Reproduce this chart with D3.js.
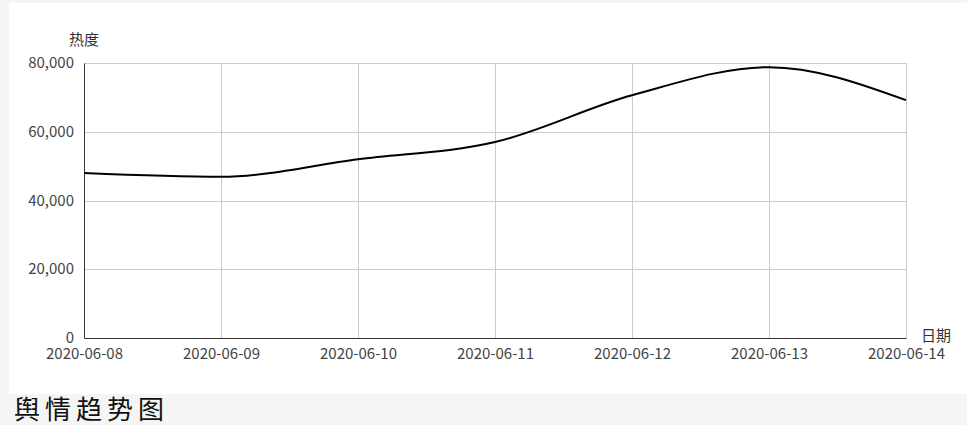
<!DOCTYPE html>
<html>
<head>
<meta charset="utf-8">
<script src="https://cdn.jsdelivr.net/npm/d3@7"></script>
<style>
  html, body { margin: 0; padding: 0; background: #f5f5f5; overflow: hidden; }
  #chart { position: absolute; left: 9px; top: 3px; width: 958px; height: 391px; background: #fff; }
  #title { position: absolute; left: 14px; top: 394px; font-family: "Noto Sans CJK SC", serif; font-size: 26px; letter-spacing: 5px; color: #111; line-height: 28px; }
</style>
</head>
<body>
<div id="chart"></div>
<div id="title">舆情趋势图</div>
<script>
// data
var dates = ["2020-06-08","2020-06-09","2020-06-10","2020-06-11","2020-06-12","2020-06-13","2020-06-14"];
var heat = [48000, 46900, 52000, 57000, 70600, 78800, 69200];
var yTicks = [0, 20000, 40000, 60000, 80000];

// dimensions (relative to the white panel)
var margin = {top: 60, right: 61, bottom: 56, left: 75},
    width = 958 - margin.left - margin.right,
    height = 391 - margin.top - margin.bottom;

var font = '"Noto Sans CJK SC", "Open Sans", sans-serif';

var svg = d3.select("#chart")
  .append("svg")
    .attr("width", width + margin.left + margin.right)
    .attr("height", height + margin.top + margin.bottom)
  .append("g")
    .attr("transform", "translate(" + margin.left + "," + margin.top + ")");

var x = d3.scalePoint()
  .domain(dates)
  .range([0, width]);
var y = d3.scaleLinear()
  .domain([0, 80000])
  .range([height, 0]);

// grid lines
svg.append("g")
  .selectAll("line.h")
  .data(yTicks.slice(1))
  .enter()
  .append("line")
    .attr("x1", 0).attr("x2", width)
    .attr("y1", function(d) { return Math.round(y(d)) + 0.5; })
    .attr("y2", function(d) { return Math.round(y(d)) + 0.5; })
    .attr("stroke", "#ccc");
svg.append("g")
  .selectAll("line.v")
  .data(dates.slice(1))
  .enter()
  .append("line")
    .attr("x1", function(d) { return Math.round(x(d)) + 0.5; })
    .attr("x2", function(d) { return Math.round(x(d)) + 0.5; })
    .attr("y1", 0).attr("y2", height)
    .attr("stroke", "#ccc");

// axes
var xAxis = svg.append("g")
  .attr("transform", "translate(0," + height + ")")
  .call(d3.axisBottom(x).tickSize(0).tickPadding(10));
var yAxis = svg.append("g")
  .call(d3.axisLeft(y).tickValues(yTicks).tickSize(0).tickPadding(10)
    .tickFormat(d3.format(",")));

[xAxis, yAxis].forEach(function(a) {
  a.select(".domain").attr("stroke", "#333");
  a.selectAll("text")
    .style("font-family", font)
    .style("font-size", "15px")
    .attr("fill", "#444");
});
yAxis.selectAll("text").attr("dy", "0.3em");

// axis names
svg.append("text")
  .attr("x", 0)
  .attr("y", -18)
  .attr("text-anchor", "middle")
  .style("font-family", font)
  .style("font-size", "15px")
  .attr("fill", "#333")
  .text("热度");
svg.append("text")
  .attr("x", width + 15)
  .attr("y", height)
  .attr("dy", "0.2em")
  .style("font-family", font)
  .style("font-size", "15px")
  .attr("fill", "#333")
  .text("日期");

// the line
var line = d3.line()
  .x(function(d, i) { return x(dates[i]); })
  .y(function(d) { return y(d); })
  .curve(d3.curveMonotoneX);

svg.append("path")
  .datum(heat)
  .attr("fill", "none")
  .attr("stroke", "#000")
  .attr("stroke-width", 2)
  .attr("d", line);
</script>
</body>
</html>
